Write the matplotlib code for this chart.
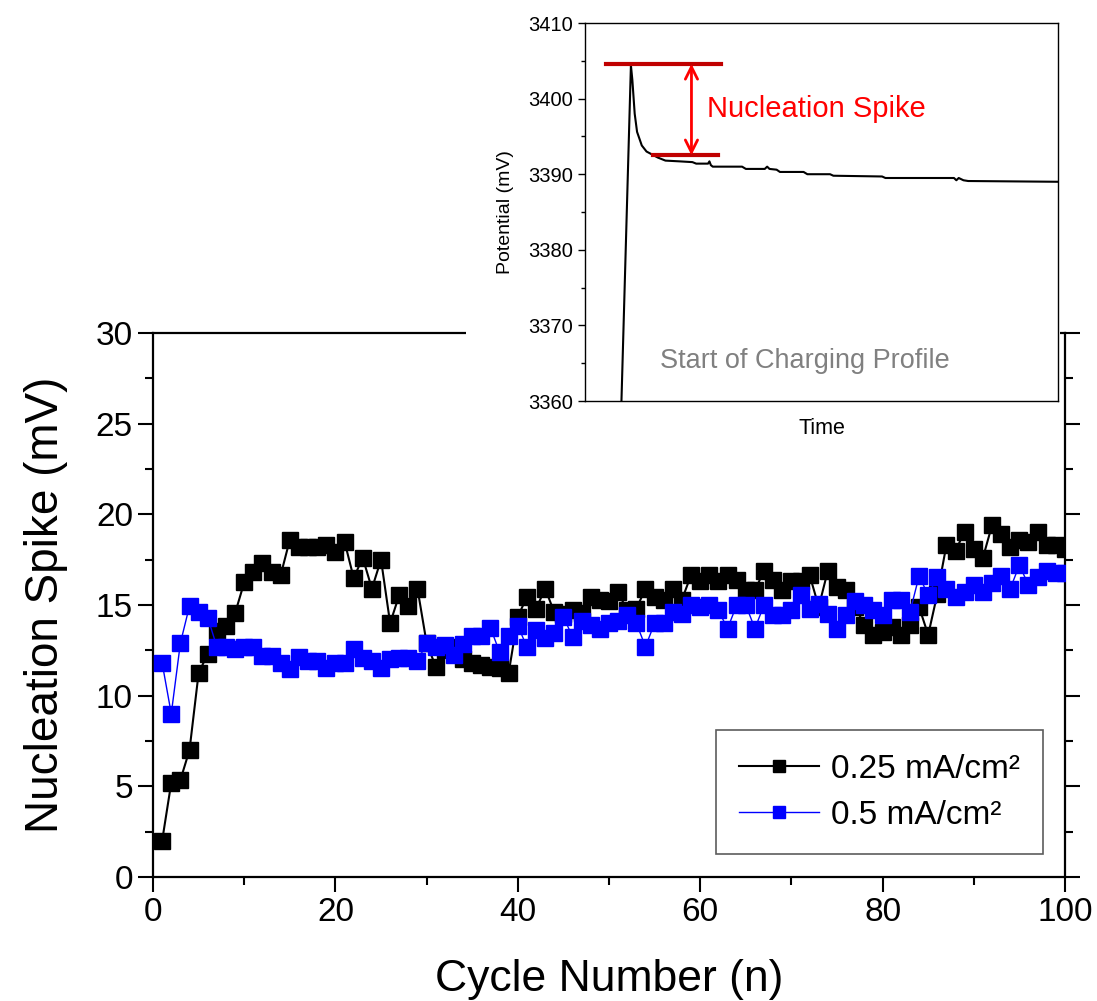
import numpy as np
import matplotlib
matplotlib.use('Agg')
import matplotlib.pyplot as plt
from matplotlib.ticker import MultipleLocator, NullLocator
from matplotlib.patches import Rectangle

plt.rcParams['font.family'] = ['Liberation Sans', 'DejaVu Sans']

# Main plot data: nucleation spike (mV) vs cycle number
cycles = list(range(1, 101))
spike_025 = [2.0, 5.2, 5.35, 7.0, 11.25, 12.3, 13.55, 13.85, 14.55, 16.25,
             16.8, 17.3, 16.8, 16.65, 18.6, 18.2, 18.2, 18.2, 18.3, 17.9,
             18.5, 16.5, 17.6, 15.9, 17.5, 14.0, 15.55, 14.95, 15.9, 12.9,
             11.6, 12.5, 12.7, 12.0, 11.8, 11.7, 11.6, 11.55, 11.25, 14.35,
             15.45, 14.8, 15.9, 14.6, 14.5, 14.7, 14.55, 15.45, 15.3, 15.2,
             15.7, 14.7, 14.8, 15.9, 15.45, 15.3, 15.9, 15.3, 16.65, 16.3,
             16.65, 16.3, 16.65, 16.4, 15.8, 15.8, 16.9, 16.4, 15.8, 16.3,
             16.3, 16.65, 14.9, 16.9, 16.0, 15.8, 14.9, 13.9, 13.35, 13.5,
             13.8, 13.35, 13.9, 14.9, 13.35, 15.6, 18.3, 18.0, 19.05, 18.1,
             17.6, 19.4, 18.9, 18.2, 18.6, 18.5, 19.05, 18.3, 18.3, 18.1]
spike_05 = [11.8, 9.0, 12.9, 14.95, 14.6, 14.3, 12.7, 12.7, 12.55, 12.7,
            12.7, 12.2, 12.2, 11.8, 11.45, 12.15, 11.9, 11.9, 11.5, 11.8,
            11.8, 12.6, 12.1, 11.9, 11.5, 12.0, 12.1, 12.1, 11.9, 12.9,
            12.7, 12.8, 12.25, 12.85, 13.3, 13.3, 13.75, 12.4, 13.3, 13.85,
            12.7, 13.6, 13.2, 13.45, 14.35, 13.25, 14.1, 13.9, 13.7, 14.0,
            14.1, 14.45, 14.0, 12.7, 14.0, 14.0, 14.6, 14.5, 15.0, 14.9,
            15.0, 14.7, 13.7, 15.0, 15.0, 13.7, 15.0, 14.45, 14.45, 14.7,
            15.55, 14.8, 15.05, 14.5, 13.7, 14.45, 15.2, 15.0, 14.7, 14.45,
            15.3, 15.3, 14.6, 16.6, 15.55, 16.55, 15.9, 15.45, 15.7, 16.1,
            15.7, 16.2, 16.6, 15.9, 17.2, 16.1, 16.55, 16.9, 16.75, 16.75]

# Inset data: start of charging profile (time in axis fraction, potential in mV)
inset_time = [0.077, 0.097, 0.100, 0.105, 0.110, 0.120, 0.130, 0.145, 0.154,
              0.170, 0.200, 0.227, 0.235, 0.260, 0.263, 0.266, 0.270, 0.332,
              0.340, 0.380, 0.385, 0.390, 0.405, 0.412, 0.462, 0.470, 0.518,
              0.525, 0.628, 0.635, 0.780, 0.785, 0.790, 0.800, 0.810, 1.000]
inset_potential = [3360.0, 3404.4, 3402.5, 3398.0, 3395.6, 3393.8, 3393.0, 3392.5, 3392.2,
                   3391.8, 3391.7, 3391.6, 3391.4, 3391.4, 3391.7, 3391.2, 3391.0, 3391.0,
                   3390.7, 3390.7, 3391.0, 3390.7, 3390.6, 3390.3, 3390.3, 3390.0, 3390.0,
                   3389.8, 3389.7, 3389.5, 3389.5, 3389.2, 3389.5, 3389.2, 3389.1, 3389.0]

spike_top = 3404.6
spike_bottom = 3392.5

fig = plt.figure(figsize=(10.97, 10.01), dpi=100)
ax = fig.add_axes([0.1395, 0.1239, 0.8313, 0.5434])

ax.plot(cycles, spike_025, color='black', lw=1.5, marker='s', ms=11.5,
        mec='black', mfc='black', label='0.25 mA/cm²', zorder=3)
ax.plot(cycles, spike_05, color='#0000ff', lw=1.0, marker='s', ms=11.5,
        mec='#0000ff', mfc='#0000ff', label='0.5 mA/cm²', zorder=3)

ax.set_xlim(0, 100)
ax.set_ylim(0, 30)
ax.xaxis.set_major_locator(MultipleLocator(20))
ax.xaxis.set_minor_locator(MultipleLocator(10))
ax.yaxis.set_major_locator(MultipleLocator(5))
ax.yaxis.set_minor_locator(MultipleLocator(2.5))
ax.tick_params(which='both', direction='out', right=True, top=False, width=1.5, labelsize=24)
ax.tick_params(which='major', length=11)
ax.tick_params(which='minor', length=6)
for sp in ax.spines.values():
    sp.set_linewidth(1.6)
ax.set_xlabel('Cycle Number (n)', fontsize=32, labelpad=22)
ax.set_ylabel('Nucleation Spike (mV)', fontsize=33, labelpad=20)

leg = ax.legend(loc='lower right', bbox_to_anchor=(0.976, 0.042), borderaxespad=0,
                fontsize=24, frameon=True, fancybox=False, edgecolor='#333333',
                handlelength=2.4, handletextpad=0.35, borderpad=0.7,
                labelspacing=0.45, markerscale=0.8)
leg.get_frame().set_linewidth(1.2)

# white backing of the inset layer (hides the main frame behind it)
fig.patches.append(Rectangle((466 / 1097, 1 - 445 / 1001), (1060 - 466) / 1097, 445 / 1001,
                             transform=fig.transFigure, facecolor='white',
                             edgecolor='none', zorder=2))

# Inset
ins = fig.add_axes([0.5333, 0.5994, 0.4312, 0.3776])
ins.set_zorder(3)
ins.set_facecolor('white')
ins.plot(inset_time, inset_potential, color='black', lw=1.5)
ins.set_xlim(0, 1)
ins.set_ylim(3360, 3410)
ins.yaxis.set_major_locator(MultipleLocator(10))
ins.yaxis.set_minor_locator(MultipleLocator(5))
ins.xaxis.set_major_locator(NullLocator())
ins.tick_params(which='both', direction='out', width=1.0, labelsize=14.5)
ins.tick_params(which='major', length=5)
ins.tick_params(which='minor', length=3)
for sp in ins.spines.values():
    sp.set_linewidth(1.0)
ins.set_ylabel('Potential (mV)', fontsize=14, labelpad=10)
ins.set_xlabel('Time', fontsize=15.5, labelpad=12)

ins.plot([0.0445, 0.287], [spike_top, spike_top], color='#c00000', lw=3)
ins.plot([0.144, 0.282], [spike_bottom, spike_bottom], color='#c00000', lw=3)
ins.annotate('', xy=(0.225, spike_top), xytext=(0.225, spike_bottom),
             arrowprops=dict(arrowstyle='<->', color='#ff0000', lw=2,
                             mutation_scale=22, shrinkA=0, shrinkB=0))
ins.text(0.258, 3398.6, 'Nucleation Spike', color='#ff0000', fontsize=21,
         va='center', ha='left')
ins.text(0.465, 3365.3, 'Start of Charging Profile', color='#808080', fontsize=19.5,
         va='center', ha='center')

fig.savefig('out.png', dpi=100)
